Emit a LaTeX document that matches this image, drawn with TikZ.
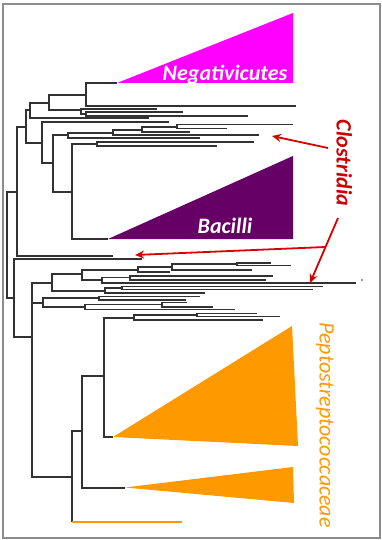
\documentclass[tikz,border=0pt]{standalone}
\usepackage{fontspec}
\setmainfont{Carlito}
\usetikzlibrary{arrows.meta}
\definecolor{negc}{RGB}{255,0,255}
\definecolor{bacc}{RGB}{102,0,102}
\definecolor{pepc}{RGB}{255,153,0}
\definecolor{cloc}{RGB}{204,0,0}
\definecolor{arrc}{RGB}{214,0,0}
\definecolor{framec}{RGB}{140,140,140}
\definecolor{treec}{RGB}{50,50,50}
\begin{document}
\begin{tikzpicture}[x=1pt,y=-1pt,
  tree/.style={line width=1.1pt, draw=treec},
  redarrow/.style={line width=1.8pt, draw=arrc, -{Stealth[length=9pt,width=8pt]}},
  cladetext/.style={font=\fontsize{22}{26}\selectfont\bfseries\itshape, inner sep=0pt, anchor=base},
  sidetext/.style={font=\fontsize{22}{26}\selectfont\itshape, inner sep=0pt, anchor=base, rotate=-90}]
\useasboundingbox (0,0) rectangle (382,540);
\draw[framec, line width=1.4pt] (3,4) rectangle (380,538);

% collapsed clades
\fill[negc] (117,83) -- (293,13) -- (293,83) -- cycle;
\fill[bacc] (108,239) -- (293,156) -- (293,239) -- cycle;
\fill[pepc] (113,437) -- (292,326) -- (298,446) -- cycle;
\fill[pepc] (125,487.5) -- (293,467) -- (294,503) -- cycle;

% upper clade
\draw[tree] (14,298) -- (7,298) -- (7,192) -- (17,192);
\draw[tree] (26,127) -- (17,127) -- (17,256) -- (113,256);
\draw[tree] (30,110) -- (26,110) -- (26,143) -- (42,143);
\draw[tree] (49,103) -- (30,103) -- (30,118) -- (149,118);
\draw[tree] (86,95) -- (49,95) -- (49,110) -- (81,110);
\draw[tree] (117,83) -- (86,83) -- (86,106) -- (296,106);
\draw[tree] (157,109) -- (81,109) -- (81,114) -- (86,114);
\draw[tree] (183,112) -- (86,112) -- (86,116) -- (248,116);
\draw[tree] (169,122) -- (42,122) -- (42,163) -- (53,163);
\draw[tree] (68,135) -- (53,135) -- (53,192) -- (72,192);
\draw[tree] (113,133) -- (68,133) -- (68,138) -- (200,138);
\draw[tree] (142,130) -- (113,130) -- (113,135) -- (259,135);
\draw[tree] (177,127) -- (142,127) -- (142,132) -- (190,132);
\draw[tree] (293,124.5) -- (177,124.5) -- (177,128.5) -- (227,128.5);
\draw[tree] (97,144) -- (72,144) -- (72,239) -- (108,239);
\draw[tree] (254,142) -- (97,142) -- (97,146) -- (217,146);

% lower clade
\draw[tree] (142,259) -- (14,259) -- (14,337) -- (32,337);
\draw[tree] (52,283) -- (32,283) -- (32,477) -- (72,477);
\draw[tree] (32,303) -- (43,303);
\draw[tree] (82,274) -- (52,274) -- (52,291) -- (105,291);
\draw[tree] (138,270) -- (82,270) -- (82,280) -- (102,280);
\draw[tree] (172,267) -- (138,267) -- (138,272) -- (170,272);
\draw[tree] (237,264) -- (172,264) -- (172,270) -- (252,270);
\draw[tree] (271,263) -- (237,263) -- (237,265.5) -- (291,265.5);
\draw[tree] (130,277.7) -- (102,277.7) -- (102,283) -- (356,283);
\draw[tree] (273,276) -- (130,276) -- (130,280) -- (266,280);
\draw[tree] (122,288) -- (105,288) -- (105,293) -- (205,293);
\draw[tree] (323,286.5) -- (122,286.5) -- (122,289.5) -- (313,289.5);
\draw[tree] (99,298) -- (43,298) -- (43,307) -- (85,307);
\draw[tree] (200,296.5) -- (99,296.5) -- (99,300) -- (186,300);
\draw[tree] (162,304.3) -- (85,304.3) -- (85,309.5) -- (235,309.5);
\draw[tree] (187,302.5) -- (162,302.5) -- (162,307) -- (213,307);
\draw[tree] (82,431) -- (72,431) -- (72,522);
\draw[tree] (104,376) -- (82,376) -- (82,488) -- (125,488);
\draw[tree] (134,318) -- (104,318) -- (104,437) -- (113,437);
\draw[tree] (197,315) -- (134,315) -- (134,320) -- (263,320);
\draw[tree] (257,313.3) -- (197,313.3) -- (197,316.7) -- (280,316.7);
\draw[pepc, line width=1.6pt] (72,522) -- (182,522);
\fill[treec] (362,280) circle (0.8pt);

% labels
\node[cladetext, text=white] (neg) at (225,81) {Negativicutes};
\node[cladetext, text=white] (bac) at (225,233) {Bacilli};
\node[sidetext, font=\fontsize{22}{26}\selectfont\bfseries\itshape, text=cloc] (clo) at (336.5,163) {Clostridia};
\node[sidetext, text=pepc] (pep) at (319.5,425) {Peptostreptococcaceae};

% arrows
\coordinate (a1s) at (328,148);
\coordinate (a1e) at (272,136);
\coordinate (a2s) at (338,218);
\coordinate (a2e) at (310,283);
\coordinate (a3s) at (325.5,247);
\coordinate (a3e) at (135,255);
\draw[redarrow] (a1s) -- (a1e);
\draw[redarrow] (a2s) -- (a2e);
\draw[redarrow] (a3s) -- (a3e);
\end{tikzpicture}
\end{document}
